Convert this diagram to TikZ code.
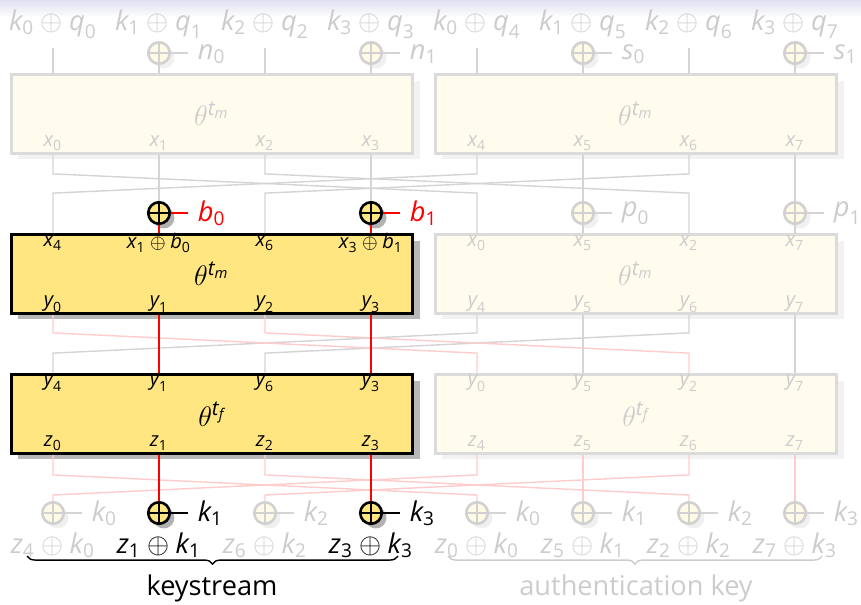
\documentclass[tikz,border=0pt]{standalone}
\usepackage{amsmath}
\usepackage{fontspec}
\setmainfont{Open Sans}
\usetikzlibrary{calc,shadows,decorations.pathreplacing}

\definecolor{boxyel}{RGB}{255,230,128}
\definecolor{fadetxt}{RGB}{204,204,204}
\definecolor{titlebg}{RGB}{222,223,241}

% italic letter with upright index
\newcommand\vv[2]{\text{\itshape #1}_{\text{#2}}}
\newcommand\thetat[1]{\theta^{\text{\itshape t}_{\text{\itshape #1}}}}

\begin{document}
\begin{tikzpicture}[x=0.1487mm, y=-0.1487mm,
  every node/.style={font=\fontsize{11.5}{13}\selectfont},
  faded/.style={text=fadetxt},
  port/.style={font=\fontsize{8.5}{10}\selectfont, inner sep=0pt},
  boxbase/.style={rectangle, line width=1.3pt, minimum width=59.7mm, minimum height=11.7mm, font=\fontsize{12.5}{14}\selectfont},
  actbox/.style={boxbase, draw=black, fill=boxyel, drop shadow={shadow xshift=1.05mm, shadow yshift=-0.9mm, fill=black!28, opacity=1}},
  fadebox/.style={boxbase, draw=black!14, fill=boxyel!14, text=fadetxt, drop shadow={shadow xshift=1.05mm, shadow yshift=-0.9mm, fill=black!5, opacity=1}},
  xorbase/.style={circle, line width=1.1pt, minimum size=3.2mm, inner sep=0pt},
  xor/.style={xorbase, draw=black, fill=boxyel, drop shadow={shadow xshift=0.7mm, shadow yshift=-0.7mm, fill=black!30, opacity=1},
    path picture={\draw[black, line width=0.8pt] (path picture bounding box.north) -- (path picture bounding box.south) (path picture bounding box.west) -- (path picture bounding box.east);}},
  fxor/.style={xorbase, draw=black!18, fill=boxyel!20, drop shadow={shadow xshift=0.7mm, shadow yshift=-0.7mm, fill=black!6, opacity=1},
    path picture={\draw[black!18, line width=0.8pt] (path picture bounding box.north) -- (path picture bounding box.south) (path picture bounding box.west) -- (path picture bounding box.east);}},
  wire/.style={black!17, line width=0.6pt},
  pwire/.style={red!20, line width=0.6pt},
  rwire/.style={red, line width=0.85pt},
  lbl/.style={anchor=west, inner xsep=4pt, inner ysep=0pt}]

\useasboundingbox (0,0) rectangle (861,604);
\shade[top color=titlebg, bottom color=white] (0,0) rectangle (861,17);

\foreach \i in {0,...,7} \coordinate (c\i) at ({53+106*\i},0);

% inputs
\foreach \i/\k in {0/0,1/1,2/2,3/3,4/0,5/1,6/2,7/3}
  \node[faded, inner ysep=1pt] (in\i) at ({53+106*\i},24) {$\vv{k}{\k}\oplus\vv{q}{\i}$};

% boxes
\node[fadebox] (T0) at (212,114) {$\thetat{m}$};
\node[fadebox] (T1) at (636,114) {$\thetat{m}$};
\node[actbox] (M0) at (212,274) {$\thetat{m}$};
\node[fadebox] (M1) at (636,274) {$\thetat{m}$};
\node[actbox] (F0) at (212,414) {$\thetat{f}$};
\node[fadebox] (F1) at (636,414) {$\thetat{f}$};

% port labels
\foreach \i in {0,...,7}
  \node[port,faded] (tx\i) at ({53+106*\i},143) {$\vv{x}{\i}$};
\foreach \i/\lab in {0/{\vv{x}{4}},1/{\vv{x}{1}\oplus\vv{b}{0}},2/{\vv{x}{6}},3/{\vv{x}{3}\oplus\vv{b}{1}}}
  \node[port] (mi\i) at ({53+106*\i},243) {$\lab$};
\foreach \i/\j in {4/0,5/5,6/2,7/7}
  \node[port,faded] (mi\i) at ({53+106*\i},243) {$\vv{x}{\j}$};
\foreach \i in {0,...,3}
  \node[port] (mo\i) at ({53+106*\i},304) {$\vv{y}{\i}$};
\foreach \i in {4,...,7}
  \node[port,faded] (mo\i) at ({53+106*\i},304) {$\vv{y}{\i}$};
\foreach \i/\j in {0/4,1/1,2/6,3/3}
  \node[port] (fi\i) at ({53+106*\i},383) {$\vv{y}{\j}$};
\foreach \i/\j in {4/0,5/5,6/2,7/7}
  \node[port,faded] (fi\i) at ({53+106*\i},383) {$\vv{y}{\j}$};
\foreach \i in {0,...,3}
  \node[port] (fo\i) at ({53+106*\i},443) {$\vv{z}{\i}$};
\foreach \i in {4,...,7}
  \node[port,faded] (fo\i) at ({53+106*\i},443) {$\vv{z}{\i}$};

% xor nodes
\foreach \i/\a/\b in {1/n/0,3/n/1,5/s/0,7/s/1}{
  \node[fxor] (xt\i) at ({53+106*\i},53) {};
  \node[lbl,faded] (lt\i) at ({82+106*\i},54) {$\vv{\a}{\b}$};
}
\node[xor] (xm1) at (159,213) {};
\node[xor] (xm3) at (371,213) {};
\node[lbl,text=red] (lm1) at (188,213) {$\vv{b}{0}$};
\node[lbl,text=red] (lm3) at (400,213) {$\vv{b}{1}$};
\foreach \i/\j in {5/0,7/1}{
  \node[fxor] (xm\i) at ({53+106*\i},213) {};
  \node[lbl,faded] (lm\i) at ({82+106*\i},213) {$\vv{p}{\j}$};
}
\foreach \i/\j in {0/0,2/2,4/0,5/1,6/2,7/3}{
  \node[fxor] (xk\i) at ({53+106*\i},513) {};
  \node[lbl,faded] (lk\i) at ({82+106*\i},513) {$\vv{k}{\j}$};
}
\foreach \i/\j in {1/1,3/3}{
  \node[xor] (xk\i) at ({53+106*\i},513) {};
  \node[lbl] (lk\i) at ({82+106*\i},513) {$\vv{k}{\j}$};
}

% outputs
\foreach \i/\a/\b in {0/4/0,2/6/2,4/0/0,5/5/1,6/2/2,7/7/3}
  \node[faded] (out\i) at ({53+106*\i},545) {$\vv{z}{\a}\oplus\vv{k}{\b}$};
\foreach \i/\a/\b in {1/1/1,3/3/3}
  \node (out\i) at ({53+106*\i},545) {$\vv{z}{\a}\oplus\vv{k}{\b}$};

% wires
\foreach \i in {0,2,4,6} \draw[wire] (c\i |- 0,48) -- (c\i |- T0.north);
\foreach \i in {1,3,5,7} \draw[wire] (xt\i) -- (c\i |- T0.north);
\foreach \i in {1,3,5,7} \draw[wire] (xt\i.east) -- (lt\i.west |- xt\i.east);
\foreach \s/\d in {0/4,4/0,2/6,6/2}
  \draw[wire] (c\s |- T0.south) -- ++(0,19) -- ($(c\d |- M0.north)+(0,-40)$) -- (c\d |- M0.north);
\foreach \i in {1,3,5,7} \draw[wire] (c\i |- T0.south) -- (xm\i);
\foreach \i in {5,7} \draw[wire] (xm\i) -- (c\i |- M0.north) (xm\i) -- (lm\i);
\foreach \i in {1,3} \draw[rwire] (xm\i) -- (c\i |- M0.north) (xm\i) -- (lm\i);

\foreach \s/\d in {4/0,6/2}
  \draw[wire] (c\s |- M0.south) -- ++(0,18) -- ($(c\d |- F0.north)+(0,-20)$) -- (c\d |- F0.north);
\foreach \s/\d in {0/4,2/6}
  \draw[pwire] (c\s |- M0.south) -- ++(0,18) -- ($(c\d |- F0.north)+(0,-20)$) -- (c\d |- F0.north);
\foreach \i in {5,7} \draw[wire] (c\i |- M0.south) -- (c\i |- F0.north);
\foreach \i in {1,3} \draw[rwire] (c\i |- M0.south) -- (c\i |- F0.north);

\foreach \s/\d in {0/4,4/0,2/6,6/2}
  \draw[pwire] (c\s |- F0.south) -- ++(0,20) -- ($(xk\d)+(0,-18)$) -- (xk\d);
\foreach \i in {5,7} \draw[pwire] (c\i |- F0.south) -- (xk\i);
\foreach \i in {1,3} \draw[rwire] (c\i |- F0.south) -- (xk\i);
\foreach \i in {0,2,4,5,6,7} \draw[wire] (xk\i) -- (lk\i);
\foreach \i in {1,3} \draw[line width=0.85pt] (xk\i) -- (lk\i);

% braces
\coordinate (kl) at (27,556);
\coordinate (kr) at (398,556);
\coordinate (al) at (448,556);
\coordinate (ar) at (822,556);
\draw[decorate, decoration={brace, mirror, amplitude=1.2mm}, line width=0.6pt] (kl) -- (kr);
\draw[decorate, decoration={brace, mirror, amplitude=1.2mm}, line width=0.6pt, fadetxt] (al) -- (ar);
\node (ks) at (212,588) {keystream};
\node[faded] (ak) at (636,588) {authentication key};
\end{tikzpicture}
\end{document}
